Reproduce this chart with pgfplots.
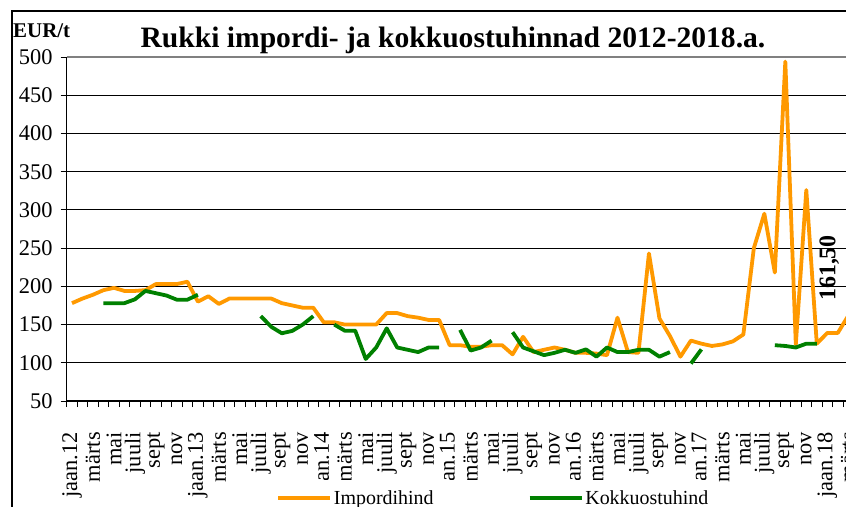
\documentclass[border=0pt]{standalone}
\usepackage{fontspec}
\setmainfont{Liberation Serif}
\usepackage{pgfplots}
\pgfplotsset{compat=1.18}
\usepackage{pgfplotstable}

\definecolor{imp}{RGB}{255,153,0}
\definecolor{kok}{RGB}{0,128,0}

% month index (0 = jaan.12), import price, purchase price (EUR/t)
\pgfplotstableread{
i imp kok
0 178 nan
1 184 nan
2 189 nan
3 195 178
4 198 178
5 194 178
6 194 183
7 195 194
8 203 191
9 203 188
10 203 182.5
11 206 182.5
12 180 189
13 187 nan
14 177 nan
15 184 nan
16 184 nan
17 184 nan
18 184 161
19 184 147
20 178 138.6
21 175 141.7
22 172 150
23 172 161
24 153 nan
25 153 150
26 150 142
27 150 142
28 150 105
29 150 120
30 165 145
31 165 120
32 161 117
33 159 114
34 156 120
35 156 120
36 123 nan
37 123 143
38 121 116
39 121 120
40 123 129
41 123 nan
42 111 140
43 134 120
44 114 115
45 117 110
46 120 113
47 117 117
48 113 113
49 113 117.5
50 112 108
51 110 120
52 159 114
53 114 114
54 113 117
55 243 117
56 158 108
57 135 114
58 108 nan
59 129 99
60 125 117.5
61 122 nan
62 124 nan
63 128 nan
64 137 nan
65 250 nan
66 295 nan
67 218 123
68 494 122
69 124 120
70 326 125
71 125 125
72 139 nan
73 139 nan
74 161.5 nan
}\rukki

\begin{document}
\begin{tikzpicture}
\draw[line width=1.6bp] (12bp,0bp) -- (12bp,496bp) -- (846bp,496bp);
\node[anchor=base, inner sep=0pt, font=\fontsize{29.7}{30}\selectfont\bfseries] at (453bp,459bp) {Rukki impordi- ja kokkuostuhinnad 2012-2018.a.};
\node[anchor=base west, inner sep=0pt, font=\fontsize{21}{21}\selectfont\bfseries] at (13bp,469.5bp) {EUR/t};
\begin{axis}[
  at={(66.75bp,106bp)}, anchor=south west,
  scale only axis, width=786.75bp, height=344bp,
  xmin=-0.5, xmax=74.5, ymin=50, ymax=500,
  axis lines*=left,
  axis line style={line width=1.3bp, black},
  tick align=outside, major tick length=0pt, minor tick length=6bp,
  tick style={black, line width=0.8bp},
  ytick={50,100,...,450},
  extra y ticks={500},
  extra y tick style={grid style={gray, line width=1.6bp}},
  minor ytick={50,100,...,500},
  ymajorgrids, grid style={black, line width=0.8bp},
  xtick={0,2,...,74},
  xticklabels={jaan.12,märts,mai,juuli,sept,nov,
    jaan.13,märts,mai,juuli,sept,nov,
    jaan.14,märts,mai,juuli,sept,nov,
    jaan.15,märts,mai,juuli,sept,nov,
    jaan.16,märts,mai,juuli,sept,nov,
    jaan.17,märts,mai,juuli,sept,nov,
    jaan.18,märts},
  minor xtick={-0.5,0.5,...,74.5},
  xticklabel style={rotate=90, anchor=east, inner ysep=0pt, inner xsep=0pt, xshift=-31bp},
  yticklabel style={anchor=east, inner sep=0pt},
  yticklabel shift=14bp,
  tick label style={font=\fontsize{22.5}{22.5}\selectfont},
  /pgf/number format/assume math mode=true,
  legend style={at={(axis description cs:0.2558,-0.2297)}, anchor=north west,
    draw=none, fill=white, legend columns=2,
    font=\fontsize{20}{22}\selectfont, inner xsep=8bp, inner ysep=8bp,
    /tikz/every even column/.append style={column sep=92bp}},
  legend image code/.code={\draw[#1] (0bp,0bp) -- (52bp,0bp);},
  unbounded coords=jump,
]
\addplot[imp, line width=3.8bp, line join=round] table[x=i, y=imp] {\rukki};
\addlegendentry{Impordihind}
\addplot[kok, line width=3.8bp, line join=round] table[x=i, y=kok] {\rukki};
\addlegendentry{Kokkuostuhind}
\node[rotate=90, font=\fontsize{24}{24}\selectfont\bfseries] at (axis cs:72.2,224) {161,50};
\end{axis}
\pgfresetboundingbox
\path[use as bounding box] (0bp,0bp) rectangle (846bp,507bp);
\end{tikzpicture}
\end{document}
